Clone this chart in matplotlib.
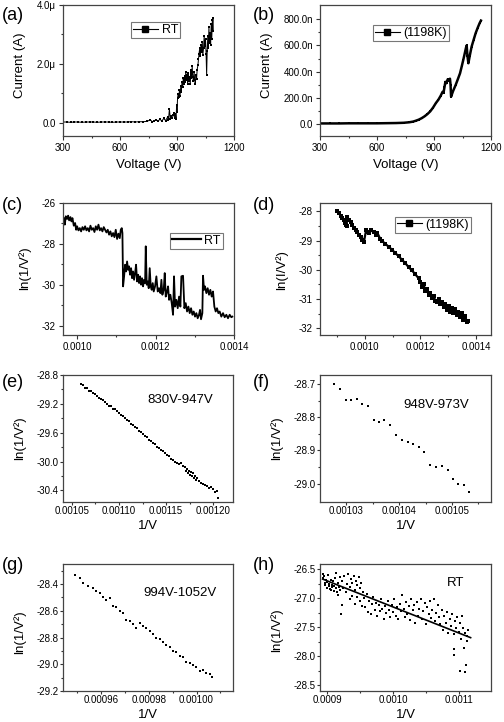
import matplotlib as mpl
mpl.use('Agg')
from matplotlib import pyplot as plt
from matplotlib.lines import Line2D
import numpy as np

plt.rcParams['font.family'] = ['Liberation Sans', 'DejaVu Sans']
plt.rcParams['axes.unicode_minus'] = False

################################
## data ####
################################

# (a) RT I-V, current in uA
V_a = [300, 320, 340, 360, 380, 400, 420, 440, 460, 480, 500, 520, 540, 560, 580, 600, 620, 640, 660, 680, 700, 720, 740,
       760, 770, 780, 790, 800, 810, 820, 830, 840, 850,
       855, 860, 865, 870, 875, 880, 885, 888, 892, 895, 898,
       900, 903, 906, 910, 913, 916, 920, 923, 926, 930,
       933, 936, 940, 943, 946, 950, 953, 956, 960, 963,
       966, 970, 973, 976, 980, 983, 986, 990, 993, 996,
       1000, 1003, 1006, 1010, 1013, 1016, 1020, 1023, 1026, 1030,
       1033, 1036, 1040, 1043, 1046, 1050, 1053, 1056, 1059, 1062,
       1065, 1068, 1071, 1074, 1077, 1080, 1083, 1086, 1089, 1091]
I_a = [0.02, 0.02, 0.01, 0.02, 0.02, 0.01, 0.02, 0.02, 0.02, 0.01, 0.02, 0.02, 0.02, 0.01, 0.02, 0.02, 0.02, 0.02, 0.03, 0.02, 0.03, 0.03, 0.04,
       0.09, 0.03, 0.06, 0.10, 0.04, 0.12, 0.05, 0.14, 0.07, 0.18,
       0.09, 0.46, 0.12, 0.22, 0.14, 0.25, 0.32, 0.16, 0.28, 0.12, 0.60,
       0.35, 0.85, 0.98, 0.88, 1.12, 0.92, 1.25, 1.05, 1.38, 1.20,
       1.50, 1.32, 1.60, 1.38, 1.72, 1.45, 1.62, 1.30, 1.68, 1.42,
       1.55, 1.32, 1.78, 1.50, 1.92, 1.56, 1.40, 1.72, 1.45, 1.30,
       1.62, 1.48, 1.80, 1.95, 2.15, 2.35, 2.55, 2.25, 2.65, 2.40,
       2.75, 2.30, 2.55, 2.95, 2.60, 2.85, 2.35, 1.62, 2.45, 2.95,
       2.55, 3.25, 2.70, 3.05, 2.65, 3.35, 2.85, 3.50, 3.10, 3.55]

# (b) 1198K I-V, current in nA
V_b = [300, 350, 400, 450, 500, 550, 600, 650, 700, 740,
       770, 790, 805, 820, 835, 850, 865, 880, 895, 910,
       923, 935, 945, 950, 955, 960, 966, 972, 978, 984,
       987, 990, 1000, 1014, 1025, 1037, 1046, 1054, 1062, 1068,
       1072, 1076, 1081, 1088, 1098, 1108, 1119, 1130, 1140, 1147]
I_b = [4, 4, 4, 5, 5, 5, 5, 6, 7, 9,
       13, 18, 25, 33, 44, 58, 75, 96, 125, 160,
       185, 215, 245, 238, 280, 322, 312, 341, 332, 346,
       300, 209, 250, 298, 340, 387, 440, 489, 540, 580,
       600, 520, 464, 520, 591, 640, 693, 735, 770, 790]

# (c) RT ln(I/V^2) vs 1/V, 1/V in 1e-4
x_c = [9.660, 9.686, 9.711, 9.745, 9.771, 9.796, 9.830, 9.856, 9.881, 9.915, 9.949, 9.975,
       10.000, 10.034, 10.068, 10.102, 10.136, 10.170, 10.204, 10.238, 10.272, 10.306, 10.340, 10.374,
       10.408, 10.442, 10.476, 10.510, 10.544, 10.578, 10.611, 10.645, 10.679, 10.713, 10.747, 10.781,
       10.815, 10.849, 10.883, 10.917, 10.951, 10.985, 11.019, 11.053, 11.087, 11.113, 11.138, 11.155,
       11.172, 11.198, 11.223, 11.248, 11.274, 11.299, 11.325, 11.350, 11.376, 11.401, 11.427, 11.452,
       11.478, 11.503, 11.529, 11.554, 11.580, 11.605, 11.631, 11.656, 11.682, 11.707, 11.733, 11.750,
       11.775, 11.801, 11.826, 11.851, 11.877, 11.902, 11.928, 11.953, 11.987, 12.021, 12.055, 12.089,
       12.123, 12.149, 12.174, 12.208, 12.234, 12.259, 12.293, 12.319, 12.344, 12.378, 12.412, 12.446,
       12.471, 12.497, 12.531, 12.565, 12.599, 12.633, 12.658, 12.701, 12.735, 12.769, 12.803, 12.837,
       12.871, 12.905, 12.939, 12.973, 13.006, 13.040, 13.074, 13.108, 13.134, 13.159, 13.193, 13.210,
       13.236, 13.261, 13.295, 13.329, 13.363, 13.397, 13.431, 13.465, 13.499, 13.533, 13.567, 13.601,
       13.635, 13.677, 13.720, 13.762, 13.805, 13.847, 13.890, 13.932, 13.958]
y_c = [-26.74, -27.06, -26.65, -26.78, -26.62, -26.85, -26.69, -26.90, -26.74, -27.11, -26.98, -27.31,
       -27.14, -27.34, -27.23, -27.39, -27.18, -27.31, -27.14, -27.34, -27.23, -27.39, -27.11, -27.31,
       -27.23, -27.42, -27.14, -27.31, -27.06, -27.34, -27.23, -27.39, -27.18, -27.31, -27.44, -27.31,
       -27.55, -27.39, -27.63, -27.47, -27.67, -27.31, -27.76, -27.50, -27.72, -27.31, -27.23, -27.47,
       -30.08, -29.59, -29.02, -29.35, -28.86, -29.27, -29.10, -29.51, -29.19, -29.68, -29.35, -29.76,
       -29.43, -29.02, -29.84, -29.51, -29.92, -29.59, -30.00, -29.68, -30.08, -29.76, -29.92, -28.12,
       -30.00, -29.84, -30.17, -29.19, -30.08, -30.25, -29.92, -30.33, -30.08, -29.59, -30.33, -30.17,
       -30.41, -29.76, -30.49, -30.25, -29.43, -30.58, -30.33, -30.08, -30.74, -30.49, -30.90, -31.47,
       -29.59, -31.07, -30.74, -31.15, -30.58, -31.07, -29.59, -29.56, -31.15, -30.90, -31.31, -31.07,
       -31.39, -31.15, -31.47, -31.31, -31.56, -31.39, -31.64, -31.47, -31.23, -31.69, -31.39, -29.56,
       -30.25, -30.08, -30.41, -30.17, -30.49, -30.25, -30.58, -30.33, -31.07, -31.31, -31.15, -31.39,
       -31.31, -31.56, -31.39, -31.59, -31.47, -31.64, -31.47, -31.59, -31.56]

# (d) 1198K ln(I/V^2) vs 1/V, 1/V in 1e-4
x_d = [9.011, 9.071, 9.130, 9.190, 9.250, 9.286, 9.310, 9.345, 9.369, 9.429,
       9.489, 9.548, 9.608, 9.668, 9.727, 9.787, 9.847, 9.907, 9.966, 10.050,
       10.110, 10.169, 10.241, 10.325, 10.408, 10.456, 10.563, 10.623, 10.743, 10.862,
       10.981, 11.101, 11.220, 11.340, 11.459, 11.578, 11.698, 11.817, 11.937, 11.996,
       12.056, 12.116, 12.176, 12.235, 12.295, 12.355, 12.414, 12.474, 12.534, 12.594,
       12.653, 12.713, 12.773, 12.832, 12.892, 12.952, 13.012, 13.071, 13.131, 13.191,
       13.250, 13.310, 13.370, 13.430, 13.489, 13.549, 13.609, 13.668, 13.728]
y_d = [-28.00, -28.06, -28.14, -28.21, -28.29, -28.38, -28.46, -28.49, -28.19, -28.29,
       -28.37, -28.46, -28.55, -28.63, -28.72, -28.80, -28.89, -28.98, -29.06, -28.63,
       -28.69, -28.74, -28.63, -28.72, -28.80, -28.74, -28.95, -29.01, -29.11, -29.21,
       -29.31, -29.43, -29.53, -29.66, -29.77, -29.91, -30.02, -30.15, -30.29, -30.40,
       -30.57, -30.48, -30.74, -30.66, -30.86, -30.78, -30.97, -30.89, -31.05, -31.09,
       -30.99, -31.17, -31.10, -31.26, -31.17, -31.37, -31.23, -31.43, -31.31, -31.49,
       -31.35, -31.54, -31.43, -31.60, -31.46, -31.71, -31.58, -31.77, -31.74]

# (e) 830V-947V, 1/V in 1e-5
x_e = [106.00, 106.21, 106.42, 106.63, 106.85, 107.06, 107.27, 107.48, 107.70, 107.91,
       108.12, 108.33, 108.54, 108.76, 108.97, 109.18, 109.39, 109.61, 109.82, 110.03,
       110.24, 110.46, 110.67, 110.88, 111.09, 111.30, 111.52, 111.73, 111.94, 112.15,
       112.37, 112.58, 112.79, 113.00, 113.22, 113.43, 113.64, 113.85, 114.07, 114.28,
       114.49, 114.70, 114.91, 115.13, 115.34, 115.55, 115.76, 115.98, 116.19, 116.40,
       116.61, 116.83, 117.04, 117.14, 117.25, 117.36, 117.46, 117.57, 117.67, 117.78,
       117.89, 117.99, 118.10, 118.21, 118.31, 118.52, 118.74, 118.95, 119.16, 119.37,
       119.59, 119.80, 120.01, 120.22, 120.36, 120.51]
y_e = [-28.925, -28.945, -28.975, -28.985, -29.015, -29.025, -29.055, -29.065, -29.095, -29.115,
       -29.135, -29.150, -29.175, -29.195, -29.225, -29.235, -29.265, -29.275, -29.305, -29.325,
       -29.355, -29.365, -29.395, -29.425, -29.435, -29.475, -29.490, -29.515, -29.535, -29.575,
       -29.595, -29.615, -29.645, -29.660, -29.695, -29.715, -29.745, -29.755, -29.795, -29.815,
       -29.845, -29.855, -29.885, -29.905, -29.925, -29.965, -29.975, -30.000, -30.015, -30.035,
       -30.025, -30.055, -30.075, -30.135, -30.105, -30.165, -30.125, -30.185, -30.145, -30.205,
       -30.165, -30.225, -30.200, -30.250, -30.225, -30.275, -30.295, -30.305, -30.325, -30.335,
       -30.365, -30.355, -30.385, -30.425, -30.405, -30.500]

# (f) 948V-973V, 1/V in 1e-5
x_f = [102.764, 102.871, 102.984, 103.091, 103.192, 103.299, 103.406, 103.519, 103.614, 103.720,
       103.834, 103.941, 104.054, 104.161, 104.261, 104.368, 104.475, 104.589, 104.696, 104.809,
       104.916, 105.029, 105.123, 105.230, 105.325]
y_f = [-28.700, -28.715, -28.748, -28.748, -28.744, -28.759, -28.765, -28.809, -28.814, -28.809,
       -28.824, -28.854, -28.870, -28.874, -28.880, -28.891, -28.904, -28.943, -28.950, -28.948,
       -28.960, -28.986, -29.000, -29.004, -29.025]

# (g) 994V-1052V, 1/V in 1e-5
x_g = [94.89, 95.10, 95.24, 95.45, 95.66, 95.80, 95.94, 96.08, 96.22, 96.36,
       96.50, 96.64, 96.78, 96.92, 97.06, 97.20, 97.34, 97.48, 97.62, 97.76,
       97.90, 98.03, 98.17, 98.31, 98.45, 98.59, 98.73, 98.87, 99.01, 99.15,
       99.29, 99.43, 99.57, 99.71, 99.85, 99.99, 100.13, 100.27, 100.41, 100.55, 100.66]
y_g = [-28.332, -28.357, -28.395, -28.413, -28.433, -28.450, -28.470, -28.496, -28.516, -28.508,
       -28.566, -28.571, -28.601, -28.616, -28.667, -28.677, -28.697, -28.727, -28.692, -28.717,
       -28.727, -28.752, -28.772, -28.803, -28.810, -28.835, -28.853, -28.868, -28.898, -28.906,
       -28.936, -28.948, -28.986, -28.989, -29.006, -29.024, -29.049, -29.044, -29.062, -29.074, -29.099]

# (h) RT scatter + linear fit, 1/V in 1e-4
x_h = [8.93, 8.94, 8.95, 8.96, 8.97, 8.98, 8.99, 9.00, 9.01, 9.02, 9.03, 9.04, 9.05, 9.06,
       9.07, 9.08, 9.09, 9.10, 9.11, 9.12, 9.13, 9.14, 9.15, 9.16, 9.17, 9.18, 9.19, 9.20,
       9.21, 9.23,
       9.22, 9.24, 9.26, 9.28, 9.30, 9.32, 9.34, 9.36, 9.38, 9.40, 9.42, 9.44, 9.46, 9.48,
       9.50, 9.52, 9.54, 9.35, 9.38, 9.42, 9.45, 9.50, 9.53,
       9.56, 9.58, 9.60, 9.62, 9.64, 9.66, 9.68, 9.70, 9.72, 9.74, 9.76, 9.78, 9.80, 9.82,
       9.84, 9.86, 9.88, 9.90,
       9.92, 9.94, 9.96, 9.98, 10.00, 10.02, 10.04, 10.06, 10.08, 10.10, 10.12, 10.14, 10.16,
       10.18, 10.20, 10.22, 10.24, 10.26, 10.28, 10.30,
       10.32, 10.34, 10.36, 10.38, 10.40, 10.42, 10.44, 10.46, 10.48, 10.50, 10.52, 10.54,
       10.56, 10.58, 10.60, 10.62, 10.64, 10.66, 10.68, 10.70,
       10.72, 10.74, 10.76, 10.78, 10.80, 10.82, 10.84, 10.86, 10.88, 10.90, 10.92, 10.94,
       10.96, 10.98,
       11.00, 11.02, 11.04, 11.06, 11.08, 11.10, 11.12, 10.92, 10.93, 11.02, 11.10, 11.11,
       11.13, 11.05, 11.14]
y_h = [-26.58, -26.66, -26.62, -26.74, -26.78, -26.68, -26.83, -26.72, -26.60, -26.79, -26.75, -26.84, -26.69, -26.86,
       -26.77, -26.81, -26.70, -26.88, -26.79, -26.66, -26.83, -26.56, -26.89, -26.74, -26.95, -26.80, -26.64, -26.86,
       -27.27, -27.12,
       -26.71, -26.83, -26.62, -26.90, -26.76, -26.58, -26.80, -26.67, -26.73, -26.61, -26.85, -26.70, -26.78, -26.64,
       -26.82, -26.74, -26.90, -27.02, -26.96, -27.10, -26.98, -27.05, -27.13,
       -27.00, -27.15, -26.93, -27.23, -27.05, -27.28, -27.10, -26.98, -27.20, -27.08, -27.30, -27.12, -27.22, -27.02,
       -27.18, -27.35, -27.14, -27.26,
       -27.05, -27.20, -27.32, -27.12, -27.24, -27.01, -27.30, -27.15, -27.36, -27.10, -27.22, -26.95, -27.18,
       -27.32, -27.06, -27.27, -27.14, -27.38, -27.02, -27.21,
       -27.12, -27.43, -27.06, -27.30, -27.18, -27.01, -27.36, -27.22, -27.08, -27.44, -27.15, -27.28,
       -27.04, -27.34, -27.20, -27.02, -27.40, -27.25, -27.12, -27.32,
       -27.45, -27.20, -27.55, -27.30, -27.42, -27.24, -27.60, -27.35, -27.48, -27.28, -27.62, -27.40,
       -27.52, -27.33,
       -27.58, -27.42, -27.70, -27.52, -27.85, -27.60, -27.74, -27.87, -27.98, -28.25, -28.28, -28.16,
       -27.66, -27.30, -27.55]
fit_x_h = [8.93, 11.18]
fit_y_h = [-26.67, -27.68]

################################
## figure ######################
################################

fig = plt.figure(figsize=(5.04, 7.22), dpi=100)


def make_axes(left, top, right, bottom):
    return fig.add_axes([left / 504., 1 - bottom / 722., (right - left) / 504., (bottom - top) / 722.])


def fmt(ax, xlim, ylim, xt, xtl, yt, ytl, xminor, yminor, tlen=3, tpad=2):
    ax.set_xlim(xlim)
    ax.set_ylim(ylim)
    ax.set_xticks(xt)
    ax.set_xticklabels(xtl)
    ax.set_yticks(yt)
    ax.set_yticklabels(ytl)
    ax.set_xticks(xminor, minor=True)
    ax.set_yticks(yminor, minor=True)
    ax.tick_params(which='both', direction='out', top=False, right=False,
                   labelsize=7, color='#333333', width=0.8, pad=tpad)
    ax.tick_params(which='major', length=tlen)
    ax.tick_params(which='minor', length=tlen * 0.55)
    for s in ax.spines.values():
        s.set_color('#444444')
        s.set_linewidth(0.9)


def labels(ax, xlab, xl_y, ylab, yl_x, yl_y):
    if xlab:
        ax.set_xlabel(xlab, fontsize=LAB, va='center')
        ax.xaxis.set_label_coords(0.5, xl_y)
    ax.set_ylabel(ylab, fontsize=LAB, va='center')
    ax.yaxis.set_label_coords(yl_x, yl_y)


def box_legend(ax, handle, x, y, hl=2.0):
    leg = ax.legend(handles=[handle], loc='upper left', bbox_to_anchor=(x, y), fontsize=9,
                    frameon=True, fancybox=False, edgecolor='#777777', framealpha=1,
                    borderpad=0.15, handlelength=hl, handletextpad=0.3, borderaxespad=0)
    leg.get_frame().set_linewidth(0.8)


LAB = 9.5
volt_ticks = [300, 600, 900, 1200]
volt_labels = ['300', '600', '900', '1200']

# (a)
ax = make_axes(63, 5, 234, 136)
ax.plot(V_a, I_a, '-s', color='k', lw=0.7, ms=2.0, mew=0)
fmt(ax, (300, 1200), (-0.456, 4.0), volt_ticks, volt_labels,
    [0, 2, 4], ['0.0', '2.0\u03bc', '4.0\u03bc'], [450, 750, 1050], [1, 3])
labels(ax, 'Voltage (V)', -0.221, 'Current (A)', -0.251, 0.542)
box_legend(ax, Line2D([], [], color='k', marker='s', ms=4, lw=0.8, label='RT'), 0.398, 0.870)

# (b)
ax = make_axes(320, 5, 491, 136)
ax.plot(V_b, I_b, '-s', color='k', lw=1.8, ms=2, mew=0)
fmt(ax, (300, 1200), (-92, 909), volt_ticks, volt_labels,
    [0, 200, 400, 600, 800], ['0.0', '200.0n', '400.0n', '600.0n', '800.0n'],
    [450, 750, 1050], [100, 300, 500, 700])
labels(ax, 'Voltage (V)', -0.221, 'Current (A)', -0.31, 0.542)
box_legend(ax, Line2D([], [], color='k', marker='s', ms=4, lw=0.8, label='(1198K)'), 0.31, 0.847)

# (c)
ax = make_axes(63, 203, 234, 335)
ax.plot(np.array(x_c) * 1e-4, y_c, '-', color='k', lw=1.3)
fmt(ax, (0.000964, 0.0014), (-32.46, -26.0),
    [0.0010, 0.0012, 0.0014], ['0.0010', '0.0012', '0.0014'],
    [-32, -30, -28, -26], ['-32', '-30', '-28', '-26'],
    [0.0011, 0.0013], [-31, -29, -27])
labels(ax, None, 0, 'ln(1/V\u00b2)', -0.222, 0.508)
box_legend(ax, Line2D([], [], color='k', lw=1.6, label='RT'), 0.626, 0.773, hl=2.3)

# (d)
ax = make_axes(320, 203, 491, 335)
ax.plot(np.array(x_d) * 1e-4, y_d, '-s', color='k', lw=1.6, ms=2.2, mew=0)
fmt(ax, (0.000839, 0.001454), (-32.23, -27.71),
    [0.0010, 0.0012, 0.0014], ['0.0010', '0.0012', '0.0014'],
    [-32, -31, -30, -29, -28], ['-32', '-31', '-30', '-29', '-28'],
    [0.0009, 0.0011, 0.0013], [-31.5, -30.5, -29.5, -28.5])
labels(ax, None, 0, 'ln(I/V\u00b2)', -0.222, 0.49)
box_legend(ax, Line2D([], [], color='k', marker='s', ms=4, lw=0.8, label='(1198K)'), 0.439, 0.894)

# (e)
ax = make_axes(63, 375, 233, 502)
ax.plot(np.array(x_e) * 1e-5, y_e, 's', color='k', ms=1.7, mew=0)
fmt(ax, (0.0010405, 0.001221), (-30.56, -28.8),
    [0.00105, 0.00110, 0.00115, 0.00120], ['0.00105', '0.00110', '0.00115', '0.00120'],
    [-30.4, -30.0, -29.6, -29.2, -28.8], ['-30.4', '-30.0', '-29.6', '-29.2', '-28.8'],
    [0.001075, 0.001125, 0.001175], [-30.2, -29.8, -29.4, -29.0], tlen=2, tpad=1)
labels(ax, '1/V', -0.19, 'ln(1/V\u00b2)', -0.253, 0.504)
ax.text(0.688, 0.803, '830V-947V', transform=ax.transAxes, fontsize=9.5, ha='center', va='center')

# (f)
ax = make_axes(320, 375, 491, 502)
ax.plot(np.array(x_f) * 1e-5, y_f, 's', color='k', ms=2.0, mew=0)
fmt(ax, (0.001025, 0.0010574), (-29.055, -28.673),
    [0.00103, 0.00104, 0.00105], ['0.00103', '0.00104', '0.00105'],
    [-29.0, -28.9, -28.8, -28.7], ['-29.0', '-28.9', '-28.8', '-28.7'],
    [0.001035, 0.001045, 0.001055], [-28.95, -28.85, -28.75], tlen=2, tpad=1)
labels(ax, '1/V', -0.19, 'ln(1/V\u00b2)', -0.251, 0.504)
ax.text(0.678, 0.764, '948V-973V', transform=ax.transAxes, fontsize=9.5, ha='center', va='center')

# (g)
ax = make_axes(63, 564, 233, 691)
ax.plot(np.array(x_g) * 1e-5, y_g, 's', color='k', ms=1.8, mew=0)
fmt(ax, (0.000944, 0.0010153), (-29.2, -28.25),
    [0.00096, 0.00098, 0.00100], ['0.00096', '0.00098', '0.00100'],
    [-29.2, -29.0, -28.8, -28.6, -28.4], ['-29.2', '-29.0', '-28.8', '-28.6', '-28.4'],
    [0.00095, 0.00097, 0.00099, 0.00101], [-29.1, -28.9, -28.7, -28.5, -28.3], tlen=2, tpad=1)
labels(ax, '1/V', -0.19, 'ln(1/V\u00b2)', -0.253, 0.46)
ax.text(0.688, 0.772, '994V-1052V', transform=ax.transAxes, fontsize=9.5, ha='center', va='center')

# (h)
ax = make_axes(320, 564, 491, 691)
ax.plot(np.array(x_h) * 1e-4, y_h, 's', color='k', ms=1.9, mew=0)
ax.plot(np.array(fit_x_h) * 1e-4, fit_y_h, '-', color='k', lw=1.2)
fmt(ax, (0.000889, 0.001149), (-28.60, -26.41),
    [0.0009, 0.0010, 0.0011], ['0.0009', '0.0010', '0.0011'],
    [-28.5, -28.0, -27.5, -27.0, -26.5], ['-28.5', '-28.0', '-27.5', '-27.0', '-26.5'],
    [0.00095, 0.00105], [-28.25, -27.75, -27.25, -26.75], tlen=2, tpad=1)
labels(ax, '1/V', -0.19, 'ln(1/V\u00b2)', -0.251, 0.48)
ax.text(0.79, 0.85, 'RT', transform=ax.transAxes, fontsize=9.5, ha='center', va='center')

# panel letters
for lab, px, py in [('(a)', 2, 15), ('(b)', 253, 15), ('(c)', 2, 205), ('(d)', 253, 205),
                    ('(e)', 2, 382), ('(f)', 253, 382), ('(g)', 2, 565), ('(h)', 253, 565)]:
    fig.text(px / 504., 1 - py / 722., lab, fontsize=13, ha='left', va='center')

plt.savefig('out.png', dpi=100)
plt.close()
